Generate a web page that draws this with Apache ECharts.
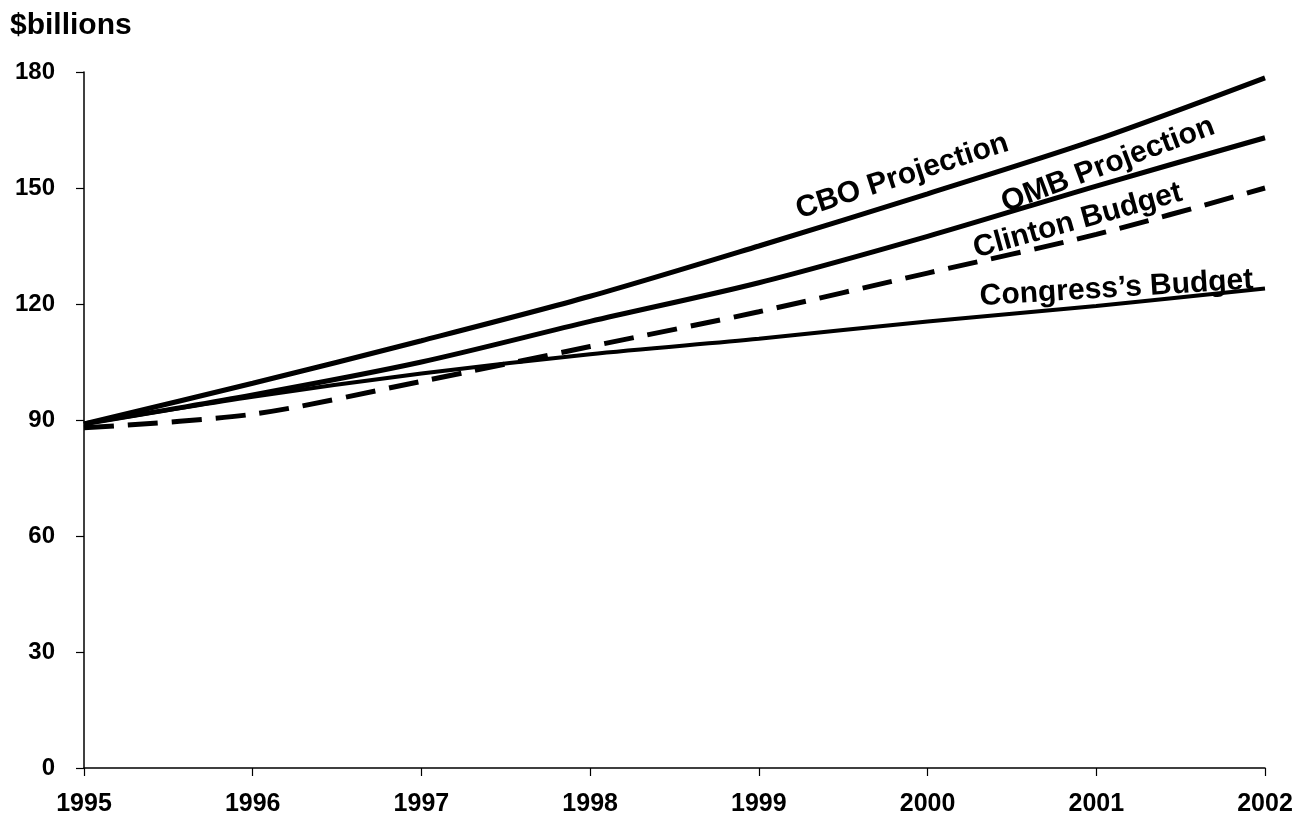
<!DOCTYPE html>
<html>
<head>
<meta charset="utf-8">
<script src="https://cdn.jsdelivr.net/npm/echarts@6/dist/echarts.min.js"></script>
<style>
  html, body { margin: 0; padding: 0; background: #fff; }
  #main { width: 1302px; height: 817px; }
</style>
</head>
<body>
<div id="main"></div>
<script>
// years on the x axis
var years = [1995, 1996, 1997, 1998, 1999, 2000, 2001, 2002];
var yTicks = [0, 30, 60, 90, 120, 150, 180];

// $billions
var cboData = [89, 99.5, 110.5, 122, 135, 148.5, 162.5, 178.5];
var ombData = [89, 96.5, 105, 115.5, 125.5, 137.5, 150.5, 163];
var clintonData = [88, 91.5, 100, 109, 118, 128, 138, 150];
var congressData = [89, 96, 102, 107, 111, 115.5, 119.5, 124];

// label text, anchor point (year, value) and rotation
var labels = [
  { text: 'CBO Projection', at: [1999.85, 153], rot: 18 },
  { text: 'OMB Projection', at: [2001.07, 156], rot: 20.5 },
  { text: 'Clinton Budget', at: [2000.89, 141.5], rot: 15.5 },
  { text: 'Congress\u2019s Budget', at: [2001.12, 124], rot: 3.5 }
];

var font = '"Liberation Sans", Arial, Helvetica, sans-serif';
var myChart = echarts.init(document.getElementById('main'));

var pairs = function(vals) {
  var out = [];
  for (var i = 0; i < years.length; i++) out.push([years[i], vals[i]]);
  return out;
};

var lineSeries = function(name, data, width, dashed) {
  return {
    name: name,
    type: 'line',
    data: pairs(data),
    smooth: 0.3,
    symbol: 'none',
    lineStyle: {
      color: '#000',
      width: width,
      type: dashed ? [30, 14] : 'solid',
      cap: 'butt'
    },
    z: 3
  };
};

var option = {
  backgroundColor: '#fff',
  animation: false,
  grid: { left: 84, right: 37, top: 72, bottom: 49 },
  xAxis: {
    type: 'value',
    min: years[0],
    max: years[years.length - 1],
    interval: 1,
    axisLine: { show: true, lineStyle: { color: '#000', width: 1.5 } },
    axisTick: { show: true, length: 8, lineStyle: { color: '#000', width: 1.2 } },
    axisLabel: {
      color: '#000', fontFamily: font, fontWeight: 'bold', fontSize: 25,
      margin: 24,
      formatter: function(v) { return String(v); }
    },
    splitLine: { show: false }
  },
  yAxis: {
    type: 'value',
    min: yTicks[0],
    max: yTicks[yTicks.length - 1],
    interval: 30,
    axisLine: { show: true, lineStyle: { color: '#000', width: 1.5 } },
    axisTick: { show: true, length: 8, lineStyle: { color: '#000', width: 1.2 } },
    axisLabel: {
      color: '#000', fontFamily: font, fontWeight: 'bold', fontSize: 24,
      margin: 29
    },
    splitLine: { show: false }
  },
  graphic: [{
    type: 'text',
    left: 10,
    top: 11,
    style: { text: '$billions', fill: '#000', font: 'bold 30px ' + font }
  }],
  series: [
    lineSeries('CBO Projection', cboData, 5, false),
    lineSeries('OMB Projection', ombData, 5, false),
    lineSeries('Clinton Budget', clintonData, 5, true),
    lineSeries('Congress\u2019s Budget', congressData, 4, false)
  ]
};

myChart.setOption(option);

// place the rotated line labels from data coordinates
var txt = [];
for (var i = 0; i < labels.length; i++) {
  var p = myChart.convertToPixel({ gridIndex: 0 }, labels[i].at);
  txt.push({
    type: 'text',
    x: p[0],
    y: p[1],
    rotation: labels[i].rot * Math.PI / 180,
    z: 10,
    style: {
      text: labels[i].text,
      fill: '#000',
      font: 'bold 30px ' + font,
      align: 'center',
      verticalAlign: 'middle'
    }
  });
}
myChart.setOption({ graphic: option.graphic.concat(txt) });
</script>
</body>
</html>
